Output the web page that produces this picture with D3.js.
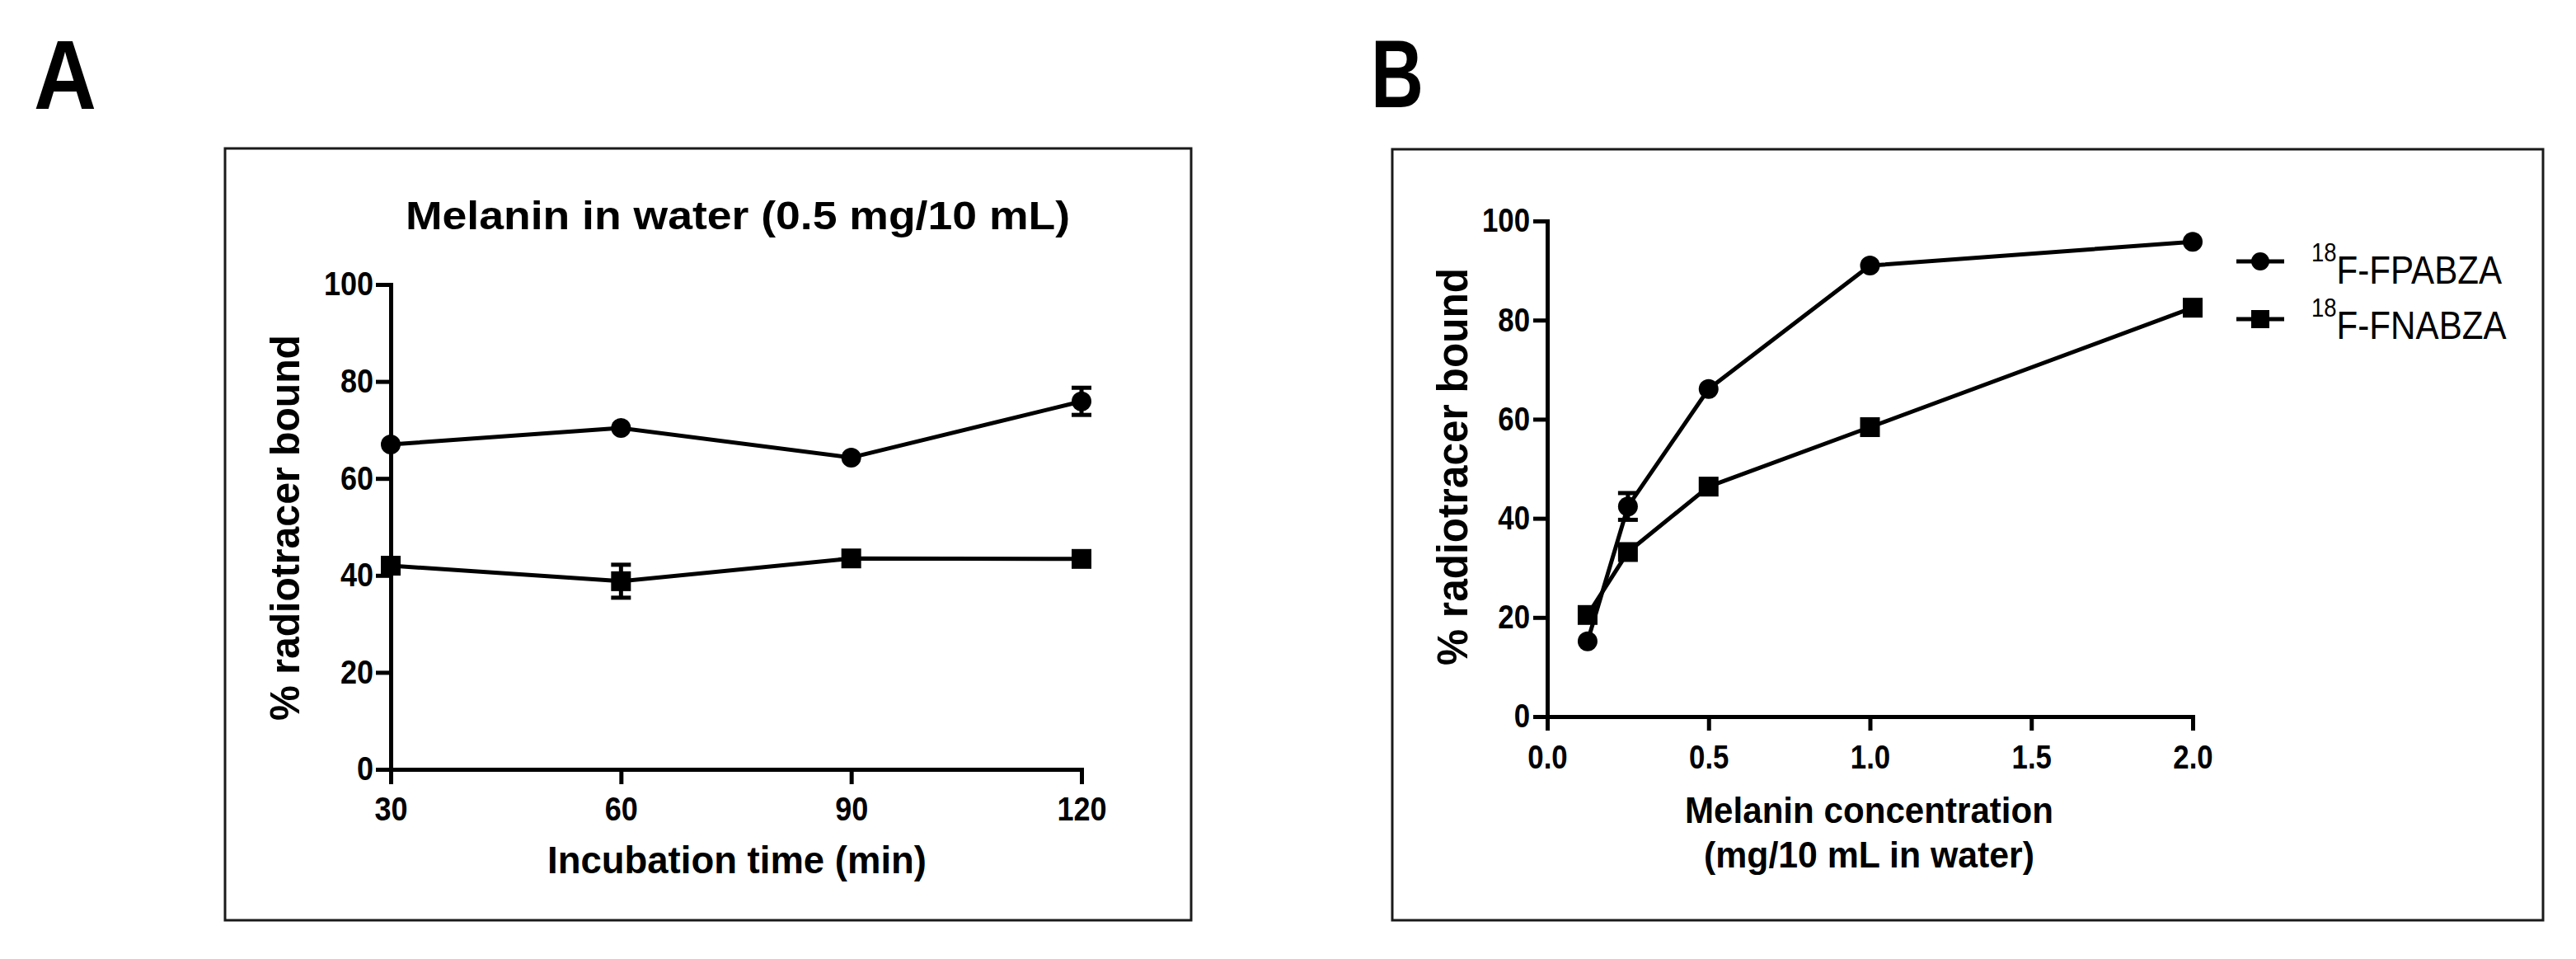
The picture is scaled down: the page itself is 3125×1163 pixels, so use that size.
<!DOCTYPE html>
<html>
<head>
<meta charset="utf-8">
<script src="https://cdn.jsdelivr.net/npm/d3@7/dist/d3.min.js"></script>
<style>
  html, body { margin: 0; padding: 0; background: #fff; }
  svg { display: block; }
  text { font-family: "Liberation Sans", Arial, sans-serif; fill: #000; }
</style>
</head>
<body>
<svg id="chart" width="3125" height="1163"></svg>
<script>
// ---------- Data ----------
const timeA = [30, 60, 90, 120];
const fpabzaA = [67.0, 70.4, 64.3, 75.9];
const fpabzaAErr = [0, 0, 0, 2.8];
const fnabzaA = [42.0, 38.8, 43.5, 43.4];
const fnabzaAErr = [0, 3.4, 0, 0];

const concB = [0.125, 0.25, 0.5, 1.0, 2.0];
const fpabzaB = [15.2, 42.4, 66.1, 91.0, 95.8];
const fpabzaBErr = [0, 2.7, 0, 0, 0];
const fnabzaB = [20.5, 33.2, 46.4, 58.4, 82.5];
const fnabzaBErr = [0, 0, 0, 0, 0];

const yTicks = [0, 20, 40, 60, 80, 100];
const xTicksB = [0, 0.5, 1.0, 1.5, 2.0];
const seriesNames = ["F-FPABZA", "F-FNABZA"];
const isotope = "18";

const titleA = "Melanin in water (0.5 mg/10 mL)";
const yTitle = "% radiotracer bound";
const xTitleA = "Incubation time (min)";
const xTitleB = ["Melanin concentration", "(mg/10 mL in water)"];

// ---------- Setup ----------
const svg = d3.select("#chart");
svg.append("rect").attr("width", 3125).attr("height", 1163).attr("fill", "#fff");

const LW = 5;

function fitText(sel, target) {
  sel.attr("textLength", target).attr("lengthAdjust", "spacingAndGlyphs");
}
function squeezeTicks(g, factor) {
  g.selectAll(".tick text").each(function () {
    const w = this.getComputedTextLength();
    d3.select(this).attr("textLength", w * factor).attr("lengthAdjust", "spacingAndGlyphs");
  });
}
function styleAxis(g, fontSize) {
  g.attr("font-family", null).attr("font-size", null);
  g.select(".domain").attr("stroke", "#000").attr("stroke-width", LW).attr("stroke-linecap", "square");
  g.selectAll(".tick line").attr("stroke", "#000").attr("stroke-width", LW);
  g.selectAll(".tick text").style("font-size", fontSize + "px").style("font-weight", "bold").attr("fill", "#000");
}

function drawSeries(g, xs, ys, xv, yv, ev, shape, size) {
  const line = d3.line().x((d, i) => xs(xv[i])).y(d => ys(d));
  g.append("path").datum(yv).attr("d", line)
    .attr("fill", "none").attr("stroke", "#000").attr("stroke-width", LW).attr("stroke-linejoin", "round");
  const eb = g.append("g");
  yv.forEach((v, i) => {
    const e = ev[i];
    if (!e) return;
    const x = xs(xv[i]);
    eb.append("line").attr("x1", x).attr("x2", x).attr("y1", ys(v - e)).attr("y2", ys(v + e))
      .attr("stroke", "#000").attr("stroke-width", LW);
    [v - e, v + e].forEach(yy => {
      eb.append("line").attr("x1", x - 12).attr("x2", x + 12).attr("y1", ys(yy)).attr("y2", ys(yy))
        .attr("stroke", "#000").attr("stroke-width", LW);
    });
  });
  if (shape === "circle") {
    g.append("g").selectAll("circle").data(yv).join("circle")
      .attr("cx", (d, i) => xs(xv[i])).attr("cy", d => ys(d)).attr("r", size / 2).attr("fill", "#000");
  } else {
    g.append("g").selectAll("rect").data(yv).join("rect")
      .attr("x", (d, i) => xs(xv[i]) - size / 2).attr("y", d => ys(d) - size / 2)
      .attr("width", size).attr("height", size).attr("fill", "#000");
  }
}

// ---------- Panel labels ----------
svg.append("text").text("A").attr("x", 41).attr("y", 132)
  .style("font-size", "118px").style("font-weight", "bold").call(fitText, 76);
svg.append("text").text("B").attr("x", 1663).attr("y", 130)
  .style("font-size", "116px").style("font-weight", "bold").call(fitText, 64);

// ---------- Panel A ----------
svg.append("rect").attr("x", 273).attr("y", 180).attr("width", 1172).attr("height", 936)
  .attr("fill", "none").attr("stroke", "#1a1a1a").attr("stroke-width", 3);

const xA = d3.scaleLinear().domain([30, 120]).range([474, 1312]);
const yA = d3.scaleLinear().domain([0, 100]).range([933, 345]);

const gAy = svg.append("g").attr("transform", "translate(474,0)")
  .call(d3.axisLeft(yA).tickValues(yTicks).tickSize(18).tickPadding(3).tickSizeOuter(0));
styleAxis(gAy, 40);
squeezeTicks(gAy, 0.9);
const gAx = svg.append("g").attr("transform", "translate(0,933)")
  .call(d3.axisBottom(xA).tickValues(timeA).tickSize(18).tickPadding(16).tickSizeOuter(0));
styleAxis(gAx, 40);
squeezeTicks(gAx, 0.9);

svg.append("text").text(titleA).attr("x", 492).attr("y", 278)
  .style("font-size", "48px").style("font-weight", "bold").call(fitText, 806);
svg.append("text").text(yTitle).attr("transform", "translate(363,640) rotate(-90)")
  .attr("text-anchor", "middle").style("font-size", "50px").style("font-weight", "bold").call(fitText, 468);
svg.append("text").text(xTitleA).attr("x", 664).attr("y", 1059)
  .style("font-size", "46px").style("font-weight", "bold").call(fitText, 460);

const gAdata = svg.append("g");
drawSeries(gAdata, xA, yA, timeA, fpabzaA, fpabzaAErr, "circle", 24);
drawSeries(gAdata, xA, yA, timeA, fnabzaA, fnabzaAErr, "square", 24);

// ---------- Panel B ----------
svg.append("rect").attr("x", 1689).attr("y", 181).attr("width", 1396).attr("height", 935)
  .attr("fill", "none").attr("stroke", "#1a1a1a").attr("stroke-width", 3);

const xB = d3.scaleLinear().domain([0, 2]).range([1877, 2660]);
const yB = d3.scaleLinear().domain([0, 100]).range([869, 268]);

const gBy = svg.append("g").attr("transform", "translate(1877,0)")
  .call(d3.axisLeft(yB).tickValues(yTicks).tickSize(17).tickPadding(4).tickSizeOuter(0));
styleAxis(gBy, 40);
squeezeTicks(gBy, 0.87);
const gBx = svg.append("g").attr("transform", "translate(0,869)")
  .call(d3.axisBottom(xB).tickValues(xTicksB).tickFormat(d3.format(".1f")).tickSize(17).tickPadding(18).tickSizeOuter(0));
styleAxis(gBx, 40);
squeezeTicks(gBx, 0.87);

svg.append("text").text(yTitle).attr("transform", "translate(1780,566) rotate(-90)")
  .attr("text-anchor", "middle").style("font-size", "51px").style("font-weight", "bold").call(fitText, 482);
svg.append("text").text(xTitleB[0]).attr("x", 2044).attr("y", 998)
  .style("font-size", "45px").style("font-weight", "bold").call(fitText, 447);
svg.append("text").text(xTitleB[1]).attr("x", 2067).attr("y", 1052)
  .style("font-size", "45px").style("font-weight", "bold").call(fitText, 401);

const gBdata = svg.append("g");
drawSeries(gBdata, xB, yB, concB, fpabzaB, fpabzaBErr, "circle", 24);
drawSeries(gBdata, xB, yB, concB, fnabzaB, fnabzaBErr, "square", 24);

// Legend
const legend = svg.append("g");
const legendRows = [
  { name: seriesNames[0], shape: "circle", ly: 317, ty: 344 },
  { name: seriesNames[1], shape: "square", ly: 387, ty: 411 }
];
legendRows.forEach(r => {
  legend.append("line").attr("x1", 2713).attr("x2", 2771).attr("y1", r.ly).attr("y2", r.ly)
    .attr("stroke", "#000").attr("stroke-width", LW);
  if (r.shape === "circle") {
    legend.append("circle").attr("cx", 2742).attr("cy", r.ly).attr("r", 11).attr("fill", "#000");
  } else {
    legend.append("rect").attr("x", 2731).attr("y", r.ly - 11).attr("width", 22).attr("height", 22).attr("fill", "#000");
  }
  const tg = legend.append("g").attr("transform", `translate(2804,${r.ty}) scale(0.86,1)`);
  const t = tg.append("text").attr("x", 0).attr("y", 0).style("font-size", "49px");
  t.append("tspan").text(isotope).style("font-size", "32px").attr("dy", -27);
  t.append("tspan").text(r.name).attr("dy", 27);
});
</script>
</body>
</html>
